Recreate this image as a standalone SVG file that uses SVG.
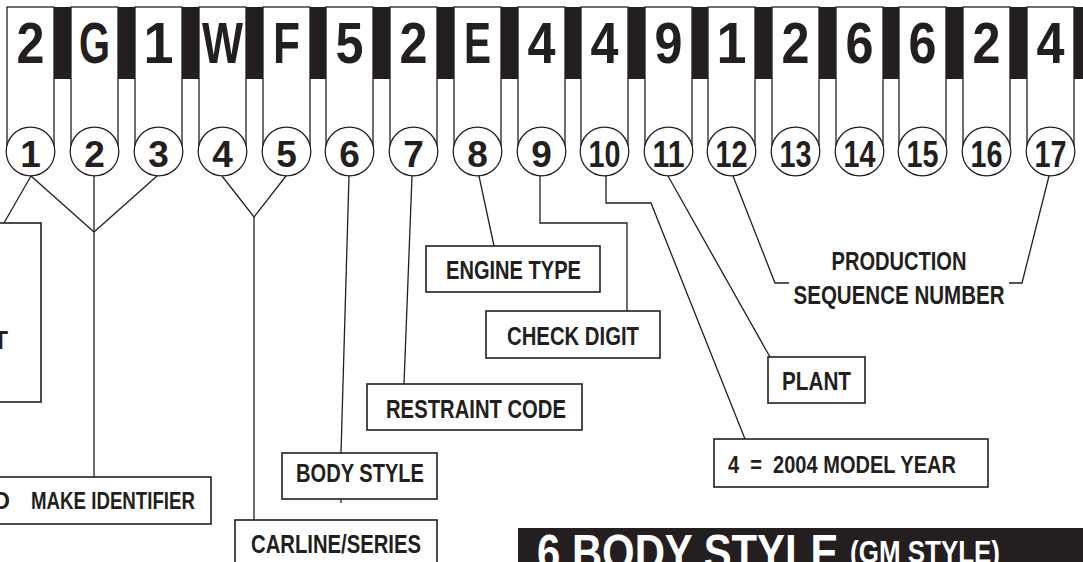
<svg xmlns="http://www.w3.org/2000/svg" width="1083" height="562" viewBox="0 0 1083 562">
<style>
.col{fill:#fff;stroke:#231f20;stroke-width:1.3}
.cir{fill:#fff;stroke:#231f20;stroke-width:1.3}
.box{fill:#fff;stroke:#231f20;stroke-width:1.6}
.ln{fill:none;stroke:#231f20;stroke-width:1.3}
.ch{font-family:"Liberation Sans Narrow","Liberation Sans",Arial,sans-serif;font-weight:bold;font-size:57px;fill:#231f20;text-anchor:middle}
.num{font-family:"Liberation Sans Narrow","Liberation Sans",Arial,sans-serif;font-weight:bold;font-size:37px;fill:#231f20;text-anchor:middle}
.lbl{font-family:"Liberation Sans Narrow","Liberation Sans",Arial,sans-serif;font-weight:bold;font-size:25px;fill:#231f20}
.sm{font-size:23.5px}
.ban{font-family:"Liberation Sans Narrow","Liberation Sans",Arial,sans-serif;font-weight:bold;fill:#fff}
</style>
<rect width="1083" height="562" fill="#fff"/>
<rect x="7" y="7" width="1076" height="72" fill="#231f20"/>
<g id="vin">
<g id="pos1"><rect class="col" x="7" y="7" width="47" height="144"/><text class="ch" x="30.5" y="63" textLength="28" lengthAdjust="spacingAndGlyphs">2</text><circle class="cir" cx="30.5" cy="151.5" r="24.3"/><text class="num" x="30.5" y="167">1</text></g>
<g id="pos2"><rect class="col" x="71" y="7" width="47" height="144"/><text class="ch" x="94.5" y="63" textLength="31" lengthAdjust="spacingAndGlyphs">G</text><circle class="cir" cx="94.5" cy="151.5" r="24.3"/><text class="num" x="94.5" y="167">2</text></g>
<g id="pos3"><rect class="col" x="135" y="7" width="47" height="144"/><text class="ch" x="158.5" y="63" textLength="30" lengthAdjust="spacingAndGlyphs">1</text><circle class="cir" cx="158.5" cy="151.5" r="24.3"/><text class="num" x="158.5" y="167">3</text></g>
<g id="pos4"><rect class="col" x="199" y="7" width="47" height="144"/><text class="ch" x="222.5" y="63" textLength="41" lengthAdjust="spacingAndGlyphs">W</text><circle class="cir" cx="222.5" cy="151.5" r="24.3"/><text class="num" x="222.5" y="167">4</text></g>
<g id="pos5"><rect class="col" x="263" y="7" width="47" height="144"/><text class="ch" x="286.5" y="63" textLength="27" lengthAdjust="spacingAndGlyphs">F</text><circle class="cir" cx="286.5" cy="151.5" r="24.3"/><text class="num" x="286.5" y="167">5</text></g>
<g id="pos6"><rect class="col" x="326" y="7" width="47" height="144"/><text class="ch" x="349.5" y="63" textLength="28" lengthAdjust="spacingAndGlyphs">5</text><circle class="cir" cx="349.5" cy="151.5" r="24.3"/><text class="num" x="349.5" y="167">6</text></g>
<g id="pos7"><rect class="col" x="390" y="7" width="47" height="144"/><text class="ch" x="413.5" y="63" textLength="28" lengthAdjust="spacingAndGlyphs">2</text><circle class="cir" cx="413.5" cy="151.5" r="24.3"/><text class="num" x="413.5" y="167">7</text></g>
<g id="pos8"><rect class="col" x="454" y="7" width="47" height="144"/><text class="ch" x="477.5" y="63" textLength="27" lengthAdjust="spacingAndGlyphs">E</text><circle class="cir" cx="477.5" cy="151.5" r="24.3"/><text class="num" x="477.5" y="167">8</text></g>
<g id="pos9"><rect class="col" x="518" y="7" width="47" height="144"/><text class="ch" x="541.5" y="63" textLength="28" lengthAdjust="spacingAndGlyphs">4</text><circle class="cir" cx="541.5" cy="151.5" r="24.3"/><text class="num" x="541.5" y="167">9</text></g>
<g id="pos10"><rect class="col" x="581" y="7" width="47" height="144"/><text class="ch" x="604.5" y="63" textLength="28" lengthAdjust="spacingAndGlyphs">4</text><circle class="cir" cx="604.5" cy="151.5" r="24.3"/><text class="num" x="604.5" y="167" textLength="32" lengthAdjust="spacingAndGlyphs">10</text></g>
<g id="pos11"><rect class="col" x="645" y="7" width="47" height="144"/><text class="ch" x="668.5" y="63" textLength="28" lengthAdjust="spacingAndGlyphs">9</text><circle class="cir" cx="668.5" cy="151.5" r="24.3"/><text class="num" x="668.5" y="167" textLength="32" lengthAdjust="spacingAndGlyphs">11</text></g>
<g id="pos12"><rect class="col" x="708" y="7" width="47" height="144"/><text class="ch" x="731.5" y="63" textLength="30" lengthAdjust="spacingAndGlyphs">1</text><circle class="cir" cx="731.5" cy="151.5" r="24.3"/><text class="num" x="731.5" y="167" textLength="32" lengthAdjust="spacingAndGlyphs">12</text></g>
<g id="pos13"><rect class="col" x="772" y="7" width="47" height="144"/><text class="ch" x="795.5" y="63" textLength="28" lengthAdjust="spacingAndGlyphs">2</text><circle class="cir" cx="795.5" cy="151.5" r="24.3"/><text class="num" x="795.5" y="167" textLength="32" lengthAdjust="spacingAndGlyphs">13</text></g>
<g id="pos14"><rect class="col" x="836" y="7" width="47" height="144"/><text class="ch" x="859.5" y="63" textLength="28" lengthAdjust="spacingAndGlyphs">6</text><circle class="cir" cx="859.5" cy="151.5" r="24.3"/><text class="num" x="859.5" y="167" textLength="32" lengthAdjust="spacingAndGlyphs">14</text></g>
<g id="pos15"><rect class="col" x="899" y="7" width="47" height="144"/><text class="ch" x="922.5" y="63" textLength="28" lengthAdjust="spacingAndGlyphs">6</text><circle class="cir" cx="922.5" cy="151.5" r="24.3"/><text class="num" x="922.5" y="167" textLength="32" lengthAdjust="spacingAndGlyphs">15</text></g>
<g id="pos16"><rect class="col" x="963" y="7" width="47" height="144"/><text class="ch" x="986.5" y="63" textLength="28" lengthAdjust="spacingAndGlyphs">2</text><circle class="cir" cx="986.5" cy="151.5" r="24.3"/><text class="num" x="986.5" y="167" textLength="32" lengthAdjust="spacingAndGlyphs">16</text></g>
<g id="pos17"><rect class="col" x="1027" y="7" width="47" height="144"/><text class="ch" x="1050.5" y="63" textLength="28" lengthAdjust="spacingAndGlyphs">4</text><circle class="cir" cx="1050.5" cy="151.5" r="24.3"/><text class="num" x="1050.5" y="167" textLength="32" lengthAdjust="spacingAndGlyphs">17</text></g>
</g>
<g id="connectors">
<polyline class="ln" points="31,176 4,223"/>
<polyline class="ln" points="31,176 94,232"/>
<polyline class="ln" points="157,176 94,232"/>
<polyline class="ln" points="94,176 94,477"/>
<polyline class="ln" points="222,176 254,217 286,176"/>
<polyline class="ln" points="254,217 254,520"/>
<polyline class="ln" points="349,176 341,453"/>
<polyline class="ln" points="341,499 341,503"/>
<polyline class="ln" points="412,176 404,384"/>
<polyline class="ln" points="479,176 494,246"/>
<polyline class="ln" points="540,176 540,223 627,223 627,311"/>
<polyline class="ln" points="606,176 606,203 651,203 745,439"/>
<polyline class="ln" points="668,176 770,357"/>
<polyline class="ln" points="733,176 775,283 789,283"/>
<polyline class="ln" points="1049,176 1022,283 1009,283"/>
</g>
<g id="country-box"><rect class="box" x="-2" y="223" width="43" height="179"/><text class="lbl" x="8" y="349" text-anchor="end">T</text></g>
<g id="make-box"><rect class="box" x="-2" y="477" width="213" height="47"/><text class="lbl sm" x="10" y="509" text-anchor="end">D</text><text class="lbl sm" x="31" y="509" textLength="164" lengthAdjust="spacingAndGlyphs">MAKE IDENTIFIER</text></g>
<g id="carline-box"><rect class="box" x="235" y="520" width="202" height="50"/><text class="lbl" x="251" y="553" textLength="170" lengthAdjust="spacingAndGlyphs">CARLINE/SERIES</text></g>
<g id="body-box"><rect class="box" x="282" y="453" width="155" height="46"/><text class="lbl" x="296" y="482" textLength="128" lengthAdjust="spacingAndGlyphs">BODY STYLE</text></g>
<g id="restraint-box"><rect class="box" x="367" y="384" width="215" height="46"/><text class="lbl" x="386" y="418" textLength="180" lengthAdjust="spacingAndGlyphs">RESTRAINT CODE</text></g>
<g id="engine-box"><rect class="box" x="426" y="246" width="174" height="46"/><text class="lbl" x="446" y="279" textLength="135" lengthAdjust="spacingAndGlyphs">ENGINE TYPE</text></g>
<g id="check-box"><rect class="box" x="486" y="311" width="174" height="47"/><text class="lbl" x="507" y="345" textLength="132" lengthAdjust="spacingAndGlyphs">CHECK DIGIT</text></g>
<g id="plant-box"><rect class="box" x="768" y="357" width="97" height="46"/><text class="lbl" x="782" y="390" textLength="69" lengthAdjust="spacingAndGlyphs">PLANT</text></g>
<g id="year-box"><rect class="box" x="714" y="439" width="274" height="48"/><text class="lbl sm" x="728" y="473" xml:space="preserve" textLength="228" lengthAdjust="spacingAndGlyphs">4  =  2004 MODEL YEAR</text></g>
<g id="production-label"><text class="lbl" x="899" y="270" text-anchor="middle" textLength="135" lengthAdjust="spacingAndGlyphs">PRODUCTION</text><text class="lbl" x="899" y="304" text-anchor="middle" textLength="211" lengthAdjust="spacingAndGlyphs">SEQUENCE NUMBER</text></g>
<g id="banner"><rect x="518" y="528" width="565" height="40" fill="#231f20"/><text class="ban" x="537" y="570" font-size="50" textLength="463" lengthAdjust="spacingAndGlyphs">6 BODY STYLE <tspan font-size="31" dy="-7">(GM STYLE)</tspan></text></g>
</svg>
